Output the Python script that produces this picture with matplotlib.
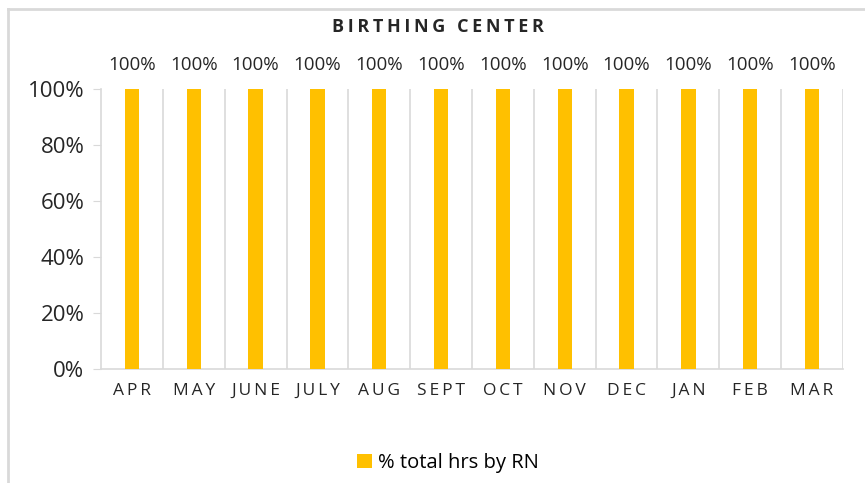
import numpy as np
import matplotlib.pyplot as plt
from matplotlib.lines import Line2D

months = ["APR", "MAY", "JUNE", "JULY", "AUG", "SEPT", "OCT", "NOV", "DEC", "JAN", "FEB", "MAR"]
pct_rn = [100, 100, 100, 100, 100, 100, 100, 100, 100, 100, 100, 100]
yticks = [0, 20, 40, 60, 80, 100]

BAR = "#FFC000"
GRID = "#D9D9D9"
TXT = "#262626"

def spaced(s, sep="\u2009"):
    return sep.join(s)

plt.rcParams['font.family'] = ['Open Sans', 'DejaVu Sans']

fig = plt.figure(figsize=(8.65, 4.83), dpi=100)
ax = fig.add_axes([101/865, 1 - 369/483, (843-101)/865, (369-89)/483])

x = np.arange(len(months))
ax.bar(x, pct_rn, width=0.23, color=BAR, zorder=3, label="% total hrs by RN")
for xi, v in zip(x, pct_rn):
    ax.text(xi, v + 5.5, f"{v}%", ha="center", va="bottom", fontsize=13.5, color=TXT)

ax.set_xlim(-0.5, len(months) - 0.5)
ax.set_ylim(0, 100)
ax.set_yticks(yticks)
ax.set_yticklabels([f"{t}%" for t in yticks], fontsize=16, color=TXT)
ax.set_xticks(x)
ax.set_xticklabels([spaced(m) for m in months], fontsize=12.5, color=TXT)
ax.tick_params(axis="x", length=0, pad=10)
ax.tick_params(axis="y", length=6, color=GRID, pad=6)

for b in np.arange(0.5, len(months), 1.0):
    ax.axvline(b, color=GRID, lw=1.2, zorder=1)

for s in ["top", "right"]:
    ax.spines[s].set_visible(False)
for s in ["left", "bottom"]:
    ax.spines[s].set_color(GRID)
    ax.spines[s].set_linewidth(1.2)

fig.text(438/865, 1 - 27/483, spaced("BIRTHING CENTER"), ha="center", va="center",
         fontsize=13, fontweight="bold", color=TXT)

fig.legend(loc="center", bbox_to_anchor=(448/865, 1 - 463/483), frameon=False,
           fontsize=14.5, handlelength=0.75, handleheight=0.75, handletextpad=0.3)

# chart area border (only left and top visible in the crop)
top = 1 - 9/483
fig.add_artist(Line2D([8/865, 8/865], [0, top], transform=fig.transFigure, color=GRID, lw=2))
fig.add_artist(Line2D([8/865, 0.999], [top, top], transform=fig.transFigure, color=GRID, lw=2))

fig.savefig("out.png", dpi=100)
